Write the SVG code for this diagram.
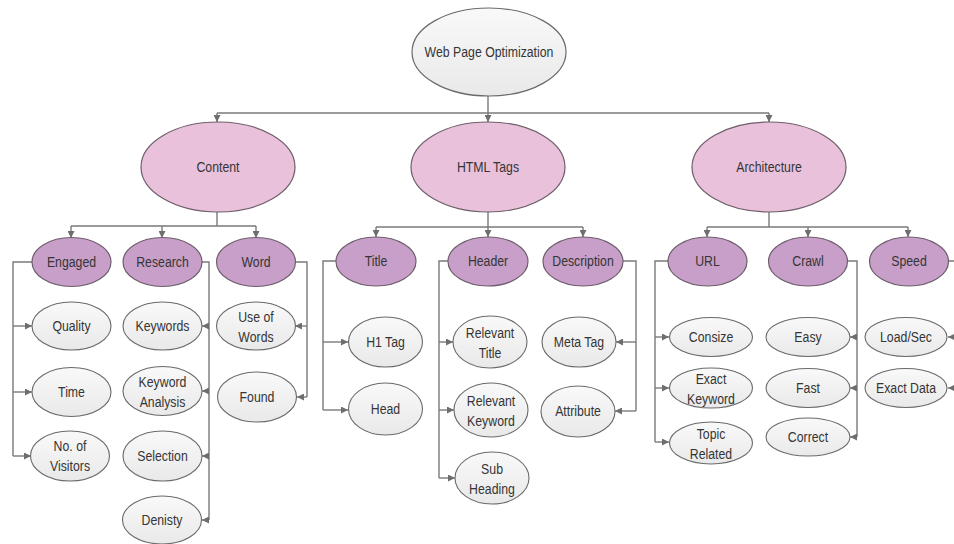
<svg xmlns="http://www.w3.org/2000/svg" width="954" height="544" viewBox="0 0 954 544">
  <defs>
    <linearGradient id="leafFill" x1="0" y1="0" x2="0" y2="1">
      <stop offset="0" stop-color="#f9f9f9"/>
      <stop offset="1" stop-color="#e9e9e9"/>
    </linearGradient>
    <marker id="arr" viewBox="0 0 8 8" refX="8" refY="4" markerWidth="7" markerHeight="7" markerUnits="userSpaceOnUse" orient="auto">
      <path d="M0,0 L8,4 L0,8 Z" fill="#6e6e6e"/>
    </marker>
  </defs>
  <style>
    text { font-family: "Liberation Sans", Arial, sans-serif; font-size: 15px; fill: #353535; text-anchor: middle;
           transform-box: fill-box; transform-origin: center; transform: scaleX(0.82); }
    .root ellipse { fill: url(#leafFill); stroke: #6a6a6a; stroke-width: 1.2; }
    .top ellipse { fill: #eac1db; stroke: #6e5e69; stroke-width: 1.2; }
    .mid ellipse { fill: #c79fc8; stroke: #6e5e6c; stroke-width: 1.2; }
    .leaf ellipse { fill: url(#leafFill); stroke: #6a6a6a; stroke-width: 1.1; }
    #connectors path { fill: none; stroke: #7a7a7a; stroke-width: 1.4; }
    #connectors path.a { marker-end: url(#arr); }
  </style>
  <rect width="954" height="544" fill="#ffffff"/>

  <g id="connectors">
    <!-- root to first level -->
    <path class="a" d="M488,96 V122"/>
    <path d="M217,113 H769"/>
    <path class="a" d="M217,113 V122"/>
    <path class="a" d="M769,113 V122"/>

    <!-- Content branch -->
    <path d="M217,212 V226 M71,226 H256"/>
    <path class="a" d="M71,226 V238"/>
    <path class="a" d="M162,226 V238"/>
    <path class="a" d="M256,226 V238"/>
    <path d="M32,262 H13 V456"/>
    <path class="a" d="M13,326 H32"/>
    <path class="a" d="M13,392 H32"/>
    <path class="a" d="M13,456 H31"/>
    <path d="M202,262 H209 V520"/>
    <path class="a" d="M209,326 H202"/>
    <path class="a" d="M209,391 H202"/>
    <path class="a" d="M209,456 H202"/>
    <path class="a" d="M209,520 H202"/>
    <path d="M295,262 H307 V397"/>
    <path class="a" d="M307,326 H295"/>
    <path class="a" d="M307,397 H297"/>

    <!-- HTML Tags branch -->
    <path d="M488,212 V227 M376,227 H583"/>
    <path class="a" d="M376,227 V237"/>
    <path class="a" d="M488,227 V237"/>
    <path class="a" d="M583,227 V237"/>
    <path d="M336,261 H323 V410"/>
    <path class="a" d="M323,342 H348"/>
    <path class="a" d="M323,410 H348"/>
    <path d="M448,261 H439 V478"/>
    <path class="a" d="M439,342 H453"/>
    <path class="a" d="M439,410 H454"/>
    <path class="a" d="M439,478 H455"/>
    <path d="M623,261 H636 V411"/>
    <path class="a" d="M636,342 H616"/>
    <path class="a" d="M636,411 H615"/>

    <!-- Architecture branch -->
    <path d="M769,212 V227 M707,227 H908"/>
    <path class="a" d="M707,227 V237"/>
    <path class="a" d="M808,227 V237"/>
    <path class="a" d="M908,227 V237"/>
    <path d="M668,261 H655 V442"/>
    <path class="a" d="M655,337 H669"/>
    <path class="a" d="M655,388 H669"/>
    <path class="a" d="M655,442 H669"/>
    <path d="M847,261 H857 V437"/>
    <path class="a" d="M857,337 H850"/>
    <path class="a" d="M857,388 H850"/>
    <path class="a" d="M857,437 H850"/>
    <path d="M948,261 H962 V388"/>
    <path class="a" d="M962,337 H948"/>
    <path class="a" d="M962,388 H948"/>
  </g>

  <!-- root -->
  <g id="web-page-optimization" class="root">
    <ellipse cx="489" cy="52" rx="77" ry="44"/>
    <text x="489" y="57">Web Page Optimization</text>
  </g>

  <!-- first level -->
  <g id="content" class="top">
    <ellipse cx="218" cy="167" rx="77" ry="45"/>
    <text x="218" y="172">Content</text>
  </g>
  <g id="html-tags" class="top">
    <ellipse cx="488" cy="167" rx="77" ry="45"/>
    <text x="488" y="172">HTML Tags</text>
  </g>
  <g id="architecture" class="top">
    <ellipse cx="769" cy="167" rx="77" ry="45"/>
    <text x="769" y="172">Architecture</text>
  </g>

  <!-- second level -->
  <g id="engaged" class="mid">
    <ellipse cx="71.5" cy="262" rx="39.5" ry="24.5"/>
    <text x="71.5" y="267">Engaged</text>
  </g>
  <g id="research" class="mid">
    <ellipse cx="162.5" cy="262" rx="39.5" ry="24.5"/>
    <text x="162.5" y="267">Research</text>
  </g>
  <g id="word" class="mid">
    <ellipse cx="256" cy="262" rx="39.5" ry="24.5"/>
    <text x="256" y="267">Word</text>
  </g>
  <g id="title" class="mid">
    <ellipse cx="376" cy="261.5" rx="40" ry="24.5"/>
    <text x="376" y="266.5">Title</text>
  </g>
  <g id="header" class="mid">
    <ellipse cx="488" cy="261.5" rx="40" ry="24.5"/>
    <text x="488" y="266.5">Header</text>
  </g>
  <g id="description" class="mid">
    <ellipse cx="583" cy="261.5" rx="40" ry="24.5"/>
    <text x="583" y="266.5">Description</text>
  </g>
  <g id="url" class="mid">
    <ellipse cx="707.5" cy="261.5" rx="39.5" ry="24.5"/>
    <text x="707.5" y="266.5">URL</text>
  </g>
  <g id="crawl" class="mid">
    <ellipse cx="808" cy="261.5" rx="39.5" ry="24.5"/>
    <text x="808" y="266.5">Crawl</text>
  </g>
  <g id="speed" class="mid">
    <ellipse cx="909" cy="261.5" rx="39.5" ry="24.5"/>
    <text x="909" y="266.5">Speed</text>
  </g>

  <!-- Content leaves -->
  <g id="quality" class="leaf">
    <ellipse cx="71.5" cy="326" rx="39.5" ry="24"/>
    <text x="71.5" y="331">Quality</text>
  </g>
  <g id="time" class="leaf">
    <ellipse cx="71.5" cy="392" rx="39.5" ry="24.5"/>
    <text x="71.5" y="397">Time</text>
  </g>
  <g id="no-of-visitors" class="leaf">
    <ellipse cx="70" cy="456" rx="39.5" ry="25"/>
    <text x="70" y="451">No. of</text>
    <text x="70" y="471">Visitors</text>
  </g>
  <g id="keywords" class="leaf">
    <ellipse cx="162.5" cy="326" rx="39.5" ry="24"/>
    <text x="162.5" y="331">Keywords</text>
  </g>
  <g id="keyword-analysis" class="leaf">
    <ellipse cx="162.5" cy="391" rx="39.5" ry="24.5"/>
    <text x="162.5" y="387">Keyword</text>
    <text x="162.5" y="407">Analysis</text>
  </g>
  <g id="selection" class="leaf">
    <ellipse cx="162.5" cy="456" rx="39.5" ry="25"/>
    <text x="162.5" y="461">Selection</text>
  </g>
  <g id="denisty" class="leaf">
    <ellipse cx="162" cy="520" rx="39.5" ry="24"/>
    <text x="162" y="525">Denisty</text>
  </g>
  <g id="use-of-words" class="leaf">
    <ellipse cx="256" cy="326" rx="39.5" ry="24"/>
    <text x="256" y="322">Use of</text>
    <text x="256" y="342">Words</text>
  </g>
  <g id="found" class="leaf">
    <ellipse cx="257" cy="397" rx="39.5" ry="25"/>
    <text x="257" y="402">Found</text>
  </g>

  <!-- HTML Tags leaves -->
  <g id="h1-tag" class="leaf">
    <ellipse cx="385.5" cy="342" rx="37" ry="25"/>
    <text x="385.5" y="347">H1 Tag</text>
  </g>
  <g id="head" class="leaf">
    <ellipse cx="385.5" cy="409" rx="37" ry="26"/>
    <text x="385.5" y="414">Head</text>
  </g>
  <g id="relevant-title" class="leaf">
    <ellipse cx="490" cy="342" rx="37" ry="26"/>
    <text x="490" y="338">Relevant</text>
    <text x="490" y="358">Title</text>
  </g>
  <g id="relevant-keyword" class="leaf">
    <ellipse cx="491" cy="410" rx="37" ry="27"/>
    <text x="491" y="406">Relevant</text>
    <text x="491" y="426">Keyword</text>
  </g>
  <g id="sub-heading" class="leaf">
    <ellipse cx="492" cy="478" rx="37" ry="26"/>
    <text x="492" y="474">Sub</text>
    <text x="492" y="494">Heading</text>
  </g>
  <g id="meta-tag" class="leaf">
    <ellipse cx="579" cy="342" rx="37" ry="25"/>
    <text x="579" y="347">Meta Tag</text>
  </g>
  <g id="attribute" class="leaf">
    <ellipse cx="578" cy="411.5" rx="37" ry="25.5"/>
    <text x="578" y="416.5">Attribute</text>
  </g>

  <!-- Architecture leaves -->
  <g id="consize" class="leaf">
    <ellipse cx="711" cy="337" rx="41.5" ry="19.5"/>
    <text x="711" y="342">Consize</text>
  </g>
  <g id="exact-keyword" class="leaf">
    <ellipse cx="711" cy="388" rx="41.5" ry="20"/>
    <text x="711" y="384">Exact</text>
    <text x="711" y="404">Keyword</text>
  </g>
  <g id="topic-related" class="leaf">
    <ellipse cx="711" cy="443" rx="41.5" ry="21"/>
    <text x="711" y="439">Topic</text>
    <text x="711" y="459">Related</text>
  </g>
  <g id="easy" class="leaf">
    <ellipse cx="808" cy="337" rx="42" ry="19.5"/>
    <text x="808" y="342">Easy</text>
  </g>
  <g id="fast" class="leaf">
    <ellipse cx="808" cy="388" rx="42" ry="19.5"/>
    <text x="808" y="393">Fast</text>
  </g>
  <g id="correct" class="leaf">
    <ellipse cx="808" cy="437" rx="42" ry="19"/>
    <text x="808" y="442">Correct</text>
  </g>
  <g id="load-sec" class="leaf">
    <ellipse cx="906" cy="337" rx="41" ry="19.5"/>
    <text x="906" y="342">Load/Sec</text>
  </g>
  <g id="exact-data" class="leaf">
    <ellipse cx="906" cy="388" rx="41" ry="19.5"/>
    <text x="906" y="393">Exact Data</text>
  </g>
</svg>
